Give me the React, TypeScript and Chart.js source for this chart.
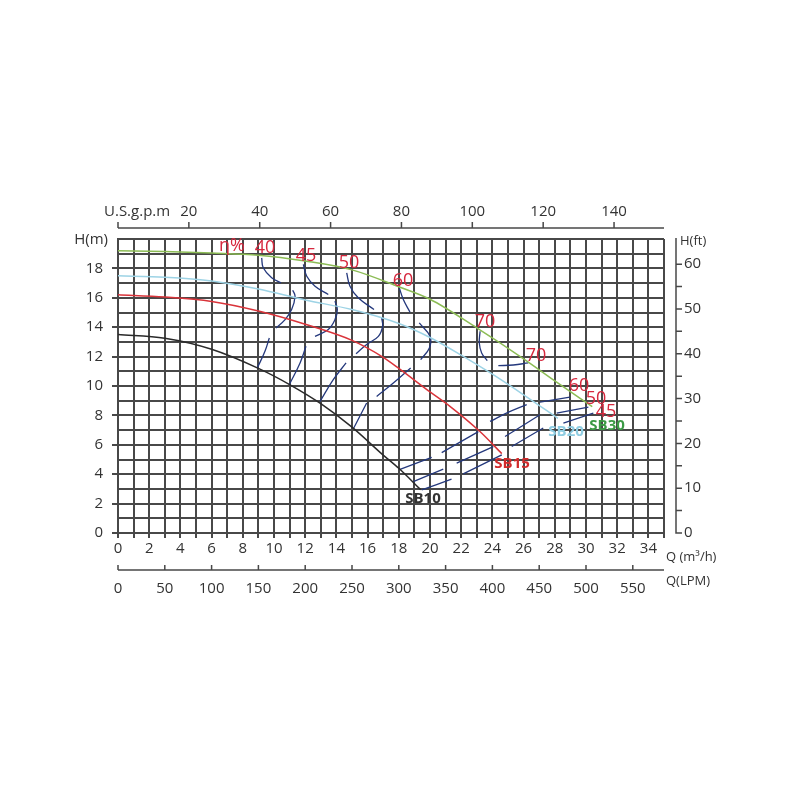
import React, { useEffect, useRef } from "react";
import { Chart, registerables } from "chart.js";
Chart.register(...registerables);

// ---------- data (Q in m³/h, H in m) ----------
const sb10: [number, number][] = [[0, 13.5], [3, 13.25], [6, 12.5], [9, 11.2], [11, 10.1], [13, 8.8], [15, 7.2], [17, 5.3], [18, 4.4], [19.4, 2.95]];
const sb15: [number, number][] = [[0, 16.2], [3, 16.05], [6, 15.75], [9, 15.1], [12, 14.2], [15, 13.1], [17, 11.95], [18, 11.2], [20, 9.6], [21.3, 8.6], [23.2, 6.9], [24.6, 5.4]];
const sb20: [number, number][] = [[0, 17.5], [3, 17.4], [6, 17.15], [9, 16.6], [12, 15.85], [15, 15.2], [18, 14.25], [20, 13.3], [22, 12.1], [24, 10.8], [26, 9.4], [28.2, 7.8]];
const sb30: [number, number][] = [[0, 19.2], [3, 19.15], [6, 19.05], [9, 18.9], [12, 18.5], [15, 17.9], [18, 16.75], [20, 15.9], [23, 13.95], [26, 11.85], [28, 10.35], [30.4, 8.6]];

const eff40: [number, number][][] = [
  [[9.21, 18.72], [9.31, 18.04], [9.85, 17.36], [10.45, 17.02]],
  [[11.2, 16.52], [11.35, 16.11], [11.13, 15.2], [10.71, 14.52], [10.13, 13.95]],
  [[9.7, 13.27], [9.42, 12.36], [8.93, 11.23]],
];
const eff45: [number, number][][] = [
  [[11.88, 18.27], [12.1, 17.47], [12.63, 16.79], [13.48, 16.22]],
  [[13.91, 15.77], [14.06, 15.2], [13.91, 14.52], [13.48, 13.84], [12.63, 13.38]],
  [[12.05, 12.7], [11.67, 11.57], [10.98, 10.09]],
  [[28.55, 7.48], [30.47, 8.16]],
];
const eff50: [number, number][][] = [
  [[14.66, 17.7], [14.87, 16.79], [15.4, 16.0], [16.41, 15.2]],
  [[16.9, 14.64], [16.96, 14.06], [16.69, 13.38], [15.94, 12.82], [15.26, 12.2]],
  [[14.62, 11.57], [13.8, 10.43], [12.95, 8.95]],
  [[28.12, 8.16], [30.15, 8.57]],
];
const eff60: [number, number][][] = [
  [[18.03, 16.68], [18.29, 15.88], [18.72, 15.02]],
  [[19.31, 14.29], [20.0, 13.38], [19.96, 12.59], [19.4, 11.79]],
  [[18.76, 11.23], [17.65, 10.2], [16.58, 9.29]],
  [[15.94, 8.84], [15.08, 7.07]],
  [[27.05, 8.91], [28.97, 9.25]],
];
const eff70: [number, number][][] = [
  [[23.21, 13.72], [23.16, 12.93], [23.31, 12.25], [23.67, 11.72]],
  [[24.38, 11.38], [25.34, 11.43], [26.3, 11.57]],
];
const effLow: [number, number][][] = [
  [[18.08, 4.33], [20.11, 5.15]],
  [[20.75, 5.47], [23.1, 6.9]],
  [[23.85, 7.59], [25.0, 8.2], [26.2, 8.73]],
  [[18.93, 3.5], [20.85, 4.34]],
  [[21.71, 4.75], [24.06, 5.88]],
  [[24.81, 6.56], [27.05, 8.04]],
  [[19.47, 2.93], [21.38, 3.66]],
  [[22.13, 4.02], [24.6, 5.32]],
  [[25.24, 5.88], [27.26, 7.14]],
];

const gpmTicks = [0, 20, 40, 60, 80, 100, 120, 140];
const lpmTicks = [0, 50, 100, 150, 200, 250, 300, 350, 400, 450, 500, 550];
const ftTicks = [0, 5, 10, 15, 20, 25, 30, 35, 40, 45, 50, 55, 60];

const GPM_PER_M3H = 4.40287;
const LPM_PER_M3H = 1000 / 60;
const FT_PER_M = 3.28084;

// annotation texts: [text, Q, H]
const effLabels: [string, number, number][] = [
  ["η%", 7.31, 19.52], ["40", 9.42, 19.39], ["45", 12.05, 18.83], ["50", 14.81, 18.37],
  ["60", 18.27, 17.14], ["70", 23.53, 14.35], ["70", 26.79, 12.04], ["60", 29.55, 9.99],
  ["50", 30.64, 9.11], ["45", 31.28, 8.23],
];
const pumpLabels: [string, number, number, string][] = [
  ["SB10", 19.55, 2.31, "#333333"],
  ["SB15", 25.26, 4.69, "#d22b2b"],
  ["SB20", 28.72, 6.87, "#8fcde2"],
  ["SB30", 31.35, 7.3, "#3c9a45"],
];

const FONT = "'Open Sans', 'DejaVu Sans', sans-serif";
const GRID = "#484848";
const TEXT = "#333333";
const EFF_COLOR = "#24387c";
const RED_TXT = "#d6283e";

const toXY = (pts: [number, number][]) => pts.map(([x, y]) => ({ x, y }));

export default function App() {
  const ref = useRef<HTMLCanvasElement | null>(null);
  useEffect(() => {
    if (!ref.current) return;
    const pump = (pts: [number, number][], color: string) => ({
      data: toXY(pts), borderColor: color, borderWidth: 1.5, pointRadius: 0,
      cubicInterpolationMode: "monotone" as const, fill: false,
    });
    const effSets = [...eff40, ...eff45, ...eff50, ...eff60, ...eff70, ...effLow].map((seg) => ({
      data: toXY(seg), borderColor: EFF_COLOR, borderWidth: 1.3, pointRadius: 0, tension: 0.4, fill: false,
    }));

    const extraAxes = {
      id: "extraAxes",
      afterDraw(chart: any) {
        const ctx = chart.ctx as CanvasRenderingContext2D;
        const xs = chart.scales.x;
        const ys = chart.scales.y;
        const ca = chart.chartArea;
        ctx.save();
        ctx.strokeStyle = GRID;
        ctx.fillStyle = TEXT;
        ctx.lineWidth = 1.5;

        // top gpm axis
        const topY = 228;
        ctx.beginPath();
        ctx.moveTo(ca.left, topY); ctx.lineTo(ca.right, topY);
        gpmTicks.forEach((g) => {
          const px = xs.getPixelForValue(g / GPM_PER_M3H);
          ctx.moveTo(px, topY); ctx.lineTo(px, topY - 6);
        });
        ctx.stroke();
        ctx.font = `15px ${FONT}`;
        ctx.textAlign = "center"; ctx.textBaseline = "middle";
        gpmTicks.forEach((g) => {
          if (g === 0) return;
          ctx.fillText(String(g), xs.getPixelForValue(g / GPM_PER_M3H), 212);
        });
        ctx.textAlign = "left";
        ctx.fillText("U.S.g.p.m", 104, 212);

        // bottom LPM axis
        const lpmY = 570;
        ctx.beginPath();
        ctx.moveTo(ca.left, lpmY); ctx.lineTo(ca.right, lpmY);
        lpmTicks.forEach((l) => {
          const px = xs.getPixelForValue(l / LPM_PER_M3H);
          ctx.moveTo(px, lpmY); ctx.lineTo(px, lpmY - 5);
        });
        ctx.stroke();
        ctx.textAlign = "center";
        lpmTicks.forEach((l) => ctx.fillText(String(l), xs.getPixelForValue(l / LPM_PER_M3H), 589));

        // right ft axis
        const ax = 676;
        ctx.beginPath();
        ctx.moveTo(ax, ca.top - 1); ctx.lineTo(ax, ca.bottom); ctx.lineTo(ax + 6, ca.bottom);
        ftTicks.forEach((f) => {
          const py = ys.getPixelForValue(f / FT_PER_M);
          ctx.moveTo(ax, py); ctx.lineTo(ax + 6, py);
        });
        ctx.stroke();
        ctx.textAlign = "left";
        ftTicks.forEach((f) => {
          if (f % 10 !== 0) return;
          ctx.fillText(String(f), ax + 8, ys.getPixelForValue(f / FT_PER_M));
        });

        // axis titles
        ctx.font = `13px ${FONT}`;
        ctx.fillText("H(ft)", 680, 241);
        ctx.fillText("Q (m³/h)", 666, 557);
        ctx.fillText("Q(LPM)", 666, 581);
        ctx.font = `15px ${FONT}`;
        ctx.textAlign = "right";
        ctx.fillText("H(m)", 108, 240);

        // efficiency labels
        ctx.textAlign = "center";
        ctx.fillStyle = RED_TXT;
        ctx.font = `18px ${FONT}`;
        effLabels.forEach(([t, q, h]) => ctx.fillText(t, xs.getPixelForValue(q), ys.getPixelForValue(h)));

        // pump labels
        ctx.font = `bold 15px ${FONT}`;
        pumpLabels.forEach(([t, q, h, c]) => {
          ctx.fillStyle = c;
          ctx.fillText(t, xs.getPixelForValue(q), ys.getPixelForValue(h));
        });
        ctx.restore();
      },
    };

    const chart = new Chart(ref.current, {
      type: "line",
      data: {
        datasets: [
          pump(sb30, "#8cbc55"),
          pump(sb20, "#9dd3e5"),
          pump(sb15, "#d9343a"),
          pump(sb10, "#2a2a2a"),
          ...effSets,
        ] as any,
      },
      options: {
        animation: false,
        responsive: false,
        layout: { padding: { top: 239, right: 136, bottom: 0, left: 0 } },
        plugins: { legend: { display: false }, tooltip: { enabled: false } },
        scales: {
          x: {
            type: "linear", min: 0, max: 35,
            afterFit: (s: any) => { s.height = 267; },
            ticks: {
              stepSize: 1, autoSkip: false, maxRotation: 0, padding: 2,
              color: TEXT, font: { family: FONT, size: 15 },
              callback: (v: any) => (v % 2 === 0 && v <= 34 ? String(v) : ""),
            },
            grid: { color: GRID, lineWidth: 2, tickLength: 5, tickColor: GRID },
            border: { color: GRID, width: 2 },
          },
          y: {
            type: "linear", min: 0, max: 20,
            afterFit: (s: any) => { s.width = 118; },
            ticks: {
              stepSize: 1, autoSkip: false, padding: 9,
              color: TEXT, font: { family: FONT, size: 15 },
              callback: (v: any) => (v % 2 === 0 && v <= 18 ? String(v) : ""),
            },
            grid: {
              color: GRID, lineWidth: 2, tickLength: 6,
              tickColor: (c: any) => (c.tick && c.tick.value % 2 === 0 && c.tick.value < 20 ? GRID : "rgba(0,0,0,0)"),
            },
            border: { color: GRID, width: 2 },
          },
        },
      } as any,
      plugins: [extraAxes],
    });
    return () => chart.destroy();
  }, []);

  return (
    <div style={{ position: "fixed", left: 0, top: 0, width: 800, height: 800, background: "#fff" }}>
      <canvas ref={ref} width={800} height={800} style={{ display: "block" }} />
    </div>
  );
}
